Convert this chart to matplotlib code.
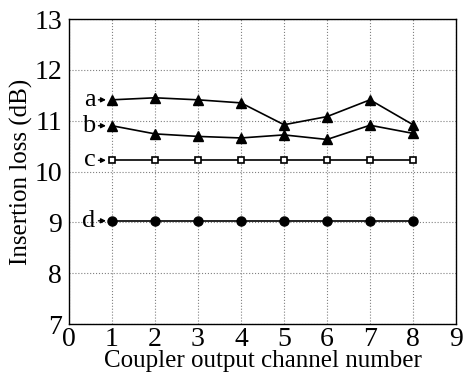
import matplotlib
matplotlib.use("Agg")
import matplotlib.pyplot as plt

channels = [1, 2, 3, 4, 5, 6, 7, 8]
series_a = [11.41, 11.45, 11.41, 11.35, 10.92, 11.08, 11.41, 10.92]
series_b = [10.90, 10.74, 10.69, 10.66, 10.72, 10.63, 10.91, 10.75]
series_c = [10.22, 10.22, 10.22, 10.22, 10.22, 10.22, 10.22, 10.22]
series_d = [9.03, 9.03, 9.03, 9.03, 9.03, 9.03, 9.03, 9.03]
labels = ["a", "b", "c", "d"]

plt.rcParams['font.family'] = ['Liberation Serif']
fig = plt.figure(figsize=(4.63, 3.72), dpi=100)
ax = fig.add_axes([69/463, 1-324/372, (456-69)/463, (324-19)/372])

ax.plot(channels, series_a, '-^', color='black', lw=1.2, ms=7)
ax.plot(channels, series_b, '-^', color='black', lw=1.2, ms=7)
ax.plot(channels, series_c, '-s', color='black', mfc='white', mew=1.2, lw=1.2, ms=5)
ax.plot(channels, series_d, '-o', color='black', lw=1.2, ms=6.5)

for lab, s in zip(labels, [series_a, series_b, series_c, series_d]):
    ax.annotate(lab, xy=(channels[0] - 0.14, s[0]), xytext=(channels[0] - 0.38, s[0]),
                ha='right', va='center', fontsize=19,
                arrowprops=dict(arrowstyle='-|>', color='black', lw=1.0,
                                mutation_scale=7, shrinkA=0, shrinkB=0))

ax.set_xlim(0, 9)
ax.set_ylim(7, 13)
ax.set_xticks(range(0, 10))
ax.set_yticks(range(7, 14))
ax.tick_params(length=0, labelsize=20)
ax.tick_params(axis='x', pad=2)
ax.tick_params(axis='y', pad=5)
ax.grid(True, linestyle=':', color='gray', lw=0.8)
ax.set_xlabel('Coupler output channel number', fontsize=18)
ax.xaxis.set_label_coords(0.5, -26/305)
ax.set_ylabel('Insertion loss (dB)', fontsize=18)
ax.yaxis.set_label_coords(-36/387, 0.5)
for sp in ax.spines.values():
    sp.set_linewidth(1.0)

fig.savefig('out.png', dpi=100)
